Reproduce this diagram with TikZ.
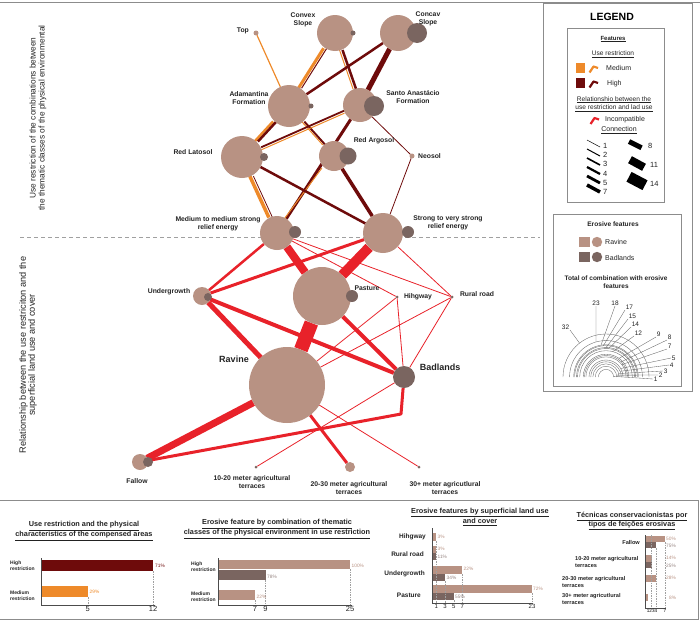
\documentclass[tikz,border=0pt]{standalone}
\usepackage{fontspec}
\setmainfont{Liberation Sans}
\usetikzlibrary{calc}
\pgfdeclarelayer{edges}
\pgfsetlayers{edges,main}
\definecolor{rav}{HTML}{B89283}
\definecolor{bad}{HTML}{7A6560}
\definecolor{high}{HTML}{6E0B0B}
\definecolor{med}{HTML}{EE8A2A}
\definecolor{inc}{HTML}{E8222A}
\definecolor{frm}{HTML}{A0A0A0}
\definecolor{txt}{HTML}{222222}
\begin{document}
\begin{tikzpicture}[x=1pt,y=-1pt,
  ball/.style={circle,inner sep=0pt,outer sep=0pt,minimum size=#1,fill=rav},
  dball/.style={circle,inner sep=0pt,outer sep=0pt,minimum size=#1,fill=bad},
  lbl/.style={font=\fontsize{6.8}{7.8}\selectfont\bfseries,align=center,inner sep=0pt,text=txt},
  bigl/.style={font=\fontsize{9}{10}\selectfont\bfseries,inner sep=0pt,text=txt},
  vtxt/.style={font=\fontsize{8.3}{9}\selectfont,align=center,inner sep=0pt,rotate=90,text=txt},
  hi/.style={draw=high,line width=#1},
  me/.style={draw=med,line width=#1},
  ic/.style={draw=inc,line width=#1},
  lg/.style={font=\fontsize{6.6}{8.6}\selectfont,inner sep=0pt,text=txt,align=center},
  ttl/.style={font=\fontsize{7.3}{10}\selectfont\bfseries,inner sep=0pt,align=center,text=txt},
  cat/.style={font=\fontsize{5}{6}\selectfont\bfseries,inner sep=0pt,align=left,text=txt},
  cat3/.style={font=\fontsize{6.5}{8}\selectfont\bfseries,inner sep=0pt,align=right,text=txt},
  cat4/.style={font=\fontsize{5.6}{7}\selectfont\bfseries,inner sep=0pt,align=left,text=txt},
  tck/.style={font=\fontsize{7.5}{8}\selectfont,inner sep=0pt,text=txt},
  tcks/.style={font=\fontsize{6}{7}\selectfont,inner sep=0pt,text=txt},
  pct/.style={font=\fontsize{4.8}{5}\selectfont,inner sep=0pt,anchor=west},
  axl/.style={draw=black!70,line width=0.6pt},
  grd/.style={draw=frm,line width=0.4pt,dash pattern=on 1.5pt off 1pt},
  frame/.style={draw=black!45,line width=0.8pt}
]
\useasboundingbox (0,0) rectangle (700,624);

% ---------- frames ----------
\draw[frame] (0,2) -- (700,2);
\draw[frame] (0,500) -- (698,500) -- (698,619) -- (0,619);
\draw[frame] (543,3) rectangle (692,391);
\draw[frame] (567,28) rectangle (664,202);
\draw[frame] (553,214) rectangle (681,386);

% ---------- side texts ----------
\node[vtxt] (vt1) at (38,118) {Use restriction of the combinations between\\the thematic classes of the physical environmental};
\node[vtxt,font=\fontsize{9.2}{8.8}\selectfont] (vt2) at (28,355) {Relationship between the use restriciton and the\\superficial land use and cover};

% ---------- graph nodes ----------
\node[ball=5] (top) at (256,33) {};
\node[ball=36] (convex) at (335,33) {};
\node[dball=5] (convexB) at (353,33) {};
\node[ball=36] (concav) at (398,33) {};
\node[dball=20] (concavB) at (417,33) {};
\node[ball=42] (adam) at (289,106) {};
\node[dball=5] (adamB) at (311,106) {};
\node[ball=34] (santo) at (360,105) {};
\node[dball=20] (santoB) at (374,106) {};
\node[ball=42] (latosol) at (242,157) {};
\node[dball=8] (latosolB) at (264,157) {};
\node[ball=30] (argosol) at (334,156) {};
\node[dball=17] (argosolB) at (348,156) {};
\node[ball=5] (neosol) at (412,156) {};
\node[ball=34] (medrel) at (277,233) {};
\node[dball=12] (medrelB) at (295,232) {};
\node[ball=40] (strrel) at (383,233) {};
\node[dball=12] (strrelB) at (408,232) {};
\node[ball=18] (under) at (202,296) {};
\node[dball=8] (underB) at (208,297) {};
\node[ball=58] (pasture) at (322,296) {};
\node[dball=12] (pastureB) at (352,296) {};
\node[dball=3] (highway) at (397,297) {};
\node[dball=3] (rural) at (452,297) {};
\node[ball=76] (ravine) at (287,385) {};
\node[dball=22] (badlands) at (404,377) {};
\node[ball=16] (fallow) at (140,462) {};
\node[dball=10] (fallowB) at (148,462) {};
\node[dball=3] (t1020) at (256,467) {};
\node[ball=10] (t2030) at (350,467) {};
\node[dball=3] (t30) at (419,467) {};
\coordinate (bend) at (401,414);

% ---------- graph labels ----------
\node[lbl,anchor=east] (lTop) at (249,31) {Top};
\node[lbl] (lConvex) at (303,20) {Convex\\Slope};
\node[lbl] (lConcav) at (428,19) {Concav\\Slope};
\node[lbl] (lAdam) at (249,98) {Adamantina\\Formation};
\node[lbl] (lSanto) at (413,97) {Santo Anastácio\\Formation};
\node[lbl] (lLat) at (193,152) {Red Latosol};
\node[lbl] (lArg) at (374,141) {Red Argosol};
\node[lbl,anchor=west] (lNeo) at (418,156) {Neosol};
\node[lbl] (lMed) at (218,224) {Medium to medium strong\\relief energy};
\node[lbl] (lStr) at (448,222.5) {Strong to very strong\\relief energy};
\node[lbl] (lUnder) at (169,292) {Undergrowth};
\node[lbl] (lPast) at (367,288) {Pasture};
\node[lbl] (lHigh) at (418,297) {Hihgway};
\node[lbl] (lRural) at (477,294) {Rural road};
\node[bigl] (lRav) at (234,359) {Ravine};
\node[bigl] (lBad) at (440,367) {Badlands};
\node[lbl] (lFal) at (137,481) {Fallow};
\node[lbl] (l1020) at (252,482) {10-20 meter agricultural\\terraces};
\node[lbl] (l2030) at (349,488) {20-30 meter agricultural\\terraces};
\node[lbl] (l30) at (445,488) {30+ meter agricutlural\\terraces};

% ---------- graph edges ----------
\begin{pgfonlayer}{edges}
\draw[draw=frm,line width=0.8pt,dash pattern=on 4pt off 3pt] (20,237) -- (540,237);
\draw[me=1.2] (top) -- (adam);
\draw[me=3,transform canvas={xshift=-1.8pt}] (convex) -- (adam);
\draw[hi=1,transform canvas={xshift=1.4pt}] (convex) -- (adam);
\draw[hi=2.5,transform canvas={xshift=1.6pt}] (convex) -- (santo);
\draw[me=1,transform canvas={xshift=-1.4pt}] (convex) -- (santo);
\draw[hi=2.5] (concav) -- (adam);
\draw[hi=5] (concav) -- (santo);
\draw[me=2.5,transform canvas={xshift=-1.7pt}] (adam) -- (latosol);
\draw[hi=2.5,transform canvas={xshift=1.7pt}] (adam) -- (latosol);
\draw[hi=2,transform canvas={xshift=1.3pt}] (adam) -- (argosol);
\draw[me=1,transform canvas={xshift=-1.3pt}] (adam) -- (argosol);
\draw[hi=1.8,transform canvas={yshift=1.3pt}] (santo) -- (latosol);
\draw[me=1,transform canvas={yshift=-1.3pt}] (santo) -- (latosol);
\draw[hi=0.8] (santo) -- (neosol);
\draw[hi=3] (santo) -- (medrel);
\draw[me=1,transform canvas={xshift=-3.2pt}] (argosol) -- (medrel);
\draw[me=3.5,transform canvas={xshift=-1pt}] (latosol) -- (medrel);
\draw[hi=0.8,transform canvas={xshift=2.6pt}] (latosol) -- (medrel);
\draw[hi=2.5] (latosol) -- (strrel);
\draw[hi=3.5] (argosol) -- (strrel);
\draw[hi=0.8] (neosol) -- (strrel);
% incompatible
\draw[ic=8] (medrel) -- (pasture);
\draw[ic=10] (strrel) -- (pasture);
\draw[ic=14] (pasture) -- (ravine);
\draw[ic=2.5] (medrel) -- (under);
\draw[ic=3] (strrel) -- (under);
\draw[ic=5] (under) -- (ravine);
\draw[ic=4] (under) -- (badlands);
\draw[ic=4] (pasture) -- (badlands);
\draw[ic=0.8] (medrel) -- (highway);
\draw[ic=0.8] (medrel) -- (rural);
\draw[ic=0.8] (strrel) -- (rural);
\draw[ic=0.8] (highway) -- (ravine);
\draw[ic=0.8] (rural) -- (ravine);
\draw[ic=0.8] (highway) -- (badlands);
\draw[ic=0.8] (rural) -- (badlands);
\draw[ic=0.8] (badlands) -- (t1020);
\draw[ic=3] (ravine) -- (t2030);
\draw[ic=0.8] (ravine) -- (t30);
\draw[ic=7] (ravine) -- (fallow);
\draw[ic=3,line join=round] (badlands) -- (bend) -- (fallow);
\end{pgfonlayer}

% ---------- legend ----------
\node[font=\fontsize{10.5}{12}\selectfont\bfseries,inner sep=0pt] (lgT) at (612,17) {LEGEND};
\node[lg,font=\fontsize{6}{7}\selectfont\bfseries] (lgF) at (613,39) {\underline{Features}};
\node[lg] (lgU) at (613,54) {\underline{Use restriction}};
\fill[med] (576,63) rectangle (585,73);
\draw[med,line width=2.2pt,line join=round] (589.5,72.5) -- (593.5,66.5) -- (598,68);
\node[lg,font=\fontsize{7}{8}\selectfont,anchor=west] (lgM) at (606,68) {Medium};
\fill[high] (576,78) rectangle (585,88);
\draw[high,line width=2.2pt,line join=round] (589.5,87.5) -- (593.5,81.5) -- (598,83);
\node[lg,font=\fontsize{7}{8}\selectfont,anchor=west] (lgH) at (607,84) {High};
\node[lg] (lgR) at (614,104) {\underline{Relationshio between the}\\\underline{use restriction and lad use}};
\draw[inc,line width=2.2pt,line join=round] (590.5,124) -- (594.5,118) -- (599,119.5);
\node[lg,font=\fontsize{7}{8}\selectfont,anchor=west] (lgI) at (605,120) {Incompatible};
\node[lg,font=\fontsize{7}{8}\selectfont] (lgC) at (619,130) {\underline{Connection}};
\foreach \w/\lab [count=\i from 0] in {0.5/1,1/2,1.6/3,2.2/4,2.8/5,3.5/7}{
  \draw[black,line width=\w pt] (587,140+9*\i) -- (600,147+9*\i);
  \node[lg,font=\fontsize{7.5}{8}\selectfont,anchor=west] at (603,146+9.2*\i) {\lab};
}
\draw[black,line width=5pt] (629,141.5) -- (641.5,147.8);
\node[lg,font=\fontsize{7.5}{8}\selectfont,anchor=west] at (648,146) {8};
\draw[black,line width=8pt] (630,159.7) -- (644,167.3);
\node[lg,font=\fontsize{7.5}{8}\selectfont,anchor=west] at (650,165) {11};
\draw[black,line width=11pt] (629,176.8) -- (645,185.2);
\node[lg,font=\fontsize{7.5}{8}\selectfont,anchor=west] at (650,184) {14};

\node[lg,font=\fontsize{6.6}{8}\selectfont\bfseries] (lgE) at (613,224) {Erosive features};
\fill[rav] (579,237) rectangle (590,247);
\fill[rav] (597,242) circle (5.2);
\node[lg,font=\fontsize{7}{8}\selectfont,anchor=west] (lgRav) at (605,242) {Ravine};
\fill[bad] (579,252) rectangle (590,262);
\fill[bad] (597,257) circle (5.2);
\node[lg,font=\fontsize{7}{8}\selectfont,anchor=west] (lgBad) at (605,258) {Badlands};
\node[lg,font=\fontsize{6.5}{8}\selectfont\bfseries] (lgTot) at (616,282) {Total of combination with erosive\\features};

\begin{scope}[draw=black!60,line width=0.35pt]
\foreach \v in {32,23,18,17,15,14,12,9,8,7,5,4,3,2,1}{
  \draw ({606-7.6*sqrt(\v)},377) arc[start angle=180,end angle=360,radius={7.6*sqrt(\v)}];
}
\end{scope}
\foreach \v/\a/\lx/\ly/\an in {32/128/570/330/south east,23/106/596/306/south,18/99/615/306/south,17/95/625/310/south west,15/90/628/319/south west,14/85/631/327/south west,12/75/634/336/south west,9/55/656/337/south west,8/45/667/340/south west,7/38/667/349/south west,5/30/671/358/west,4/22/669/365/west,3/15/663/371/west,2/10/658/375/west,1/5/653/379/west}{
  \node[lg,font=\fontsize{6.5}{7}\selectfont,anchor=\an,inner sep=0.6pt] (tl\v) at (\lx,\ly) {\v};
  \draw[black!60,line width=0.35pt] ({606+7.6*sqrt(\v)*cos(\a)},{377-7.6*sqrt(\v)*sin(\a)}) -- (tl\v.\an);
}

% ---------- chart 1 ----------
\node[ttl] (c1t) at (84,531) {\underline{Use restriction and the physical}\\\underline{characteristics of the compensed areas}};
\fill[high] (41,560) rectangle (153,571);
\fill[med] (41,586) rectangle (87.7,597);
\draw[grd] (153,571) -- (153,605);
\draw[grd] (87.7,597) -- (87.7,605);
\draw[axl] (41,558) -- (41,605) -- (155,605);
\node[tck,anchor=north] at (87.7,606.5) {5};
\node[tck,anchor=north] at (153,606.5) {12};
\node[pct,text=high] at (155,565.5) {71\%};
\node[pct,text=med] at (89.5,591.5) {29\%};
\node[cat,anchor=west] at (10,566) {High\\restriction};
\node[cat,anchor=west] at (10,596) {Medium\\restriction};

% ---------- chart 2 ----------
\node[ttl] (c2t) at (277,529) {\underline{Erosive feature by combination of thematic}\\\underline{classes of the physical environment in use restriction}};
\fill[rav] (218,560) rectangle (350,569);
\fill[bad] (218,570) rectangle (265.5,580);
\fill[rav] (218,590) rectangle (255,600);
\draw[grd] (350,569) -- (350,605);
\draw[grd] (265.5,580) -- (265.5,605);
\draw[grd] (255,600) -- (255,605);
\draw[axl] (218,558) -- (218,605) -- (352,605);
\node[tck,anchor=north] at (255,606.5) {7};
\node[tck,anchor=north] at (265.5,606.5) {9};
\node[tck,anchor=north] at (350,606.5) {25};
\node[pct,text=rav] at (351.5,566) {100\%};
\node[pct,text=bad!80] at (267,577) {78\%};
\node[pct,text=rav] at (256.5,597) {22\%};
\node[cat,anchor=west] at (191,567) {High\\restriction};
\node[cat,anchor=west] at (191,597) {Medium\\restriction};

% ---------- chart 3 ----------
\node[ttl] (c3t) at (480,517) {\underline{Erosive features by superficial land use}\\\underline{and cover}};
\fill[rav] (432,533) rectangle (436.3,541);
\fill[rav] (432,546) rectangle (436.3,553);
\fill[bad] (432,553) rectangle (436.3,560);
\fill[rav] (432,566) rectangle (462.4,574);
\fill[bad] (432,574) rectangle (445,581);
\fill[rav] (432,585) rectangle (532,593);
\fill[bad] (432,593) rectangle (453.7,600);
\draw[grd] (436.3,541) -- (436.3,603);
\draw[grd] (445,581) -- (445,603);
\draw[grd] (453.7,600) -- (453.7,603);
\draw[grd] (462.4,574) -- (462.4,603);
\draw[grd] (532,593) -- (532,603);
\draw[axl] (432,528) -- (432,603) -- (533,603);
\foreach \t/\x in {1/436.3,3/445,5/453.7,7/462.4,23/532}{
  \node[tcks,anchor=north] at (\x,604.5) {\t};
}
\node[cat3,anchor=east] at (426,537) {Hihgway};
\node[cat3,anchor=east] at (424,554) {Rural road};
\node[cat3,anchor=east] at (425,574) {Undergrowth};
\node[cat3,anchor=east] at (421,595) {Pasture};
\node[pct,text=rav] at (437.5,537) {3\%};
\node[pct,text=rav] at (437.5,548.5) {3\%};
\node[pct,text=bad!80] at (437.5,557) {11\%};
\node[pct,text=rav] at (463.5,568.5) {22\%};
\node[pct,text=bad!80] at (446.5,578) {34\%};
\node[pct,text=rav] at (533,589) {72\%};
\node[pct,text=bad!80] at (455,596.5) {55\%};

% ---------- chart 4 ----------
\node[ttl,font=\fontsize{7.3}{9}\selectfont\bfseries] (c4t) at (632,521) {\underline{Técnicas conservacionistas por}\\\underline{tipos de feições erosivas}};
\fill[rav] (645,536) rectangle (665,542);
\fill[bad] (645,542) rectangle (656.4,548);
\fill[rav] (645,555) rectangle (651.5,562);
\fill[bad] (645,562) rectangle (651.5,568);
\fill[rav] (645,575) rectangle (656.4,582);
\fill[rav] (645,594) rectangle (647.9,601);
\draw[grd] (650.7,535) -- (650.7,608);
\draw[grd] (656.4,548) -- (656.4,608);
\draw[grd] (665,542) -- (665,608);
\draw[axl] (645,535) -- (645,608) -- (666,608);
\node[font=\fontsize{4.6}{5}\selectfont,inner sep=0pt,anchor=north] at (652,609.5) {1234};
\node[font=\fontsize{4.6}{5}\selectfont,inner sep=0pt,anchor=north] at (665,609.5) {7};
\node[cat4,anchor=east] at (640,542) {Fallow};
\node[cat4,anchor=west] at (575,562) {10-20 meter agricultural\\terraces};
\node[cat4,anchor=west] at (562,582) {20-30 meter agricultural\\terraces};
\node[cat4,anchor=west] at (562,599) {30+ meter agricutlural\\terraces};
\node[pct,text=rav] at (666,538.5) {50\%};
\node[pct,text=bad!80] at (666,546) {75\%};
\node[pct,text=rav] at (666,558) {14\%};
\node[pct,text=bad!80] at (666,566) {25\%};
\node[pct,text=rav] at (666,578) {28\%};
\node[pct,text=rav] at (669,598) {8\%};
\end{tikzpicture}
\end{document}
